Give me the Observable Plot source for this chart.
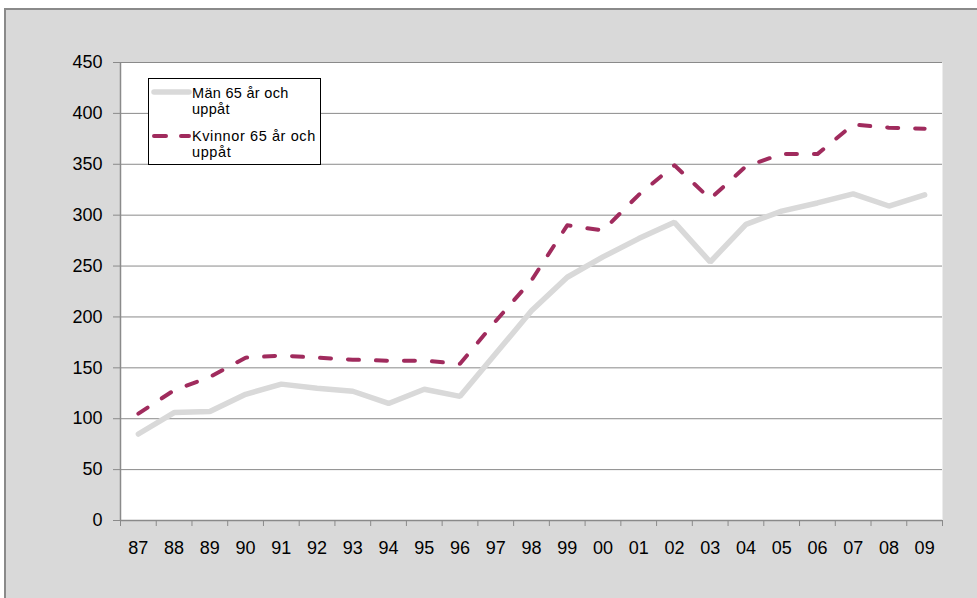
<!DOCTYPE html>
<html><head><meta charset="utf-8">
<script src="https://cdn.jsdelivr.net/npm/d3@7"></script>
<script src="https://cdn.jsdelivr.net/npm/@observablehq/plot@0.6"></script>
<style>
body{margin:0;background:#fff;}
#wrap{position:relative;width:977px;height:598px;overflow:hidden;font-family:"Liberation Sans",Arial,sans-serif;}
#panel{position:absolute;left:4px;top:8px;width:1000px;height:620px;background:#d9d9d9;border-left:2px solid #8a8a8a;border-top:2px solid #8a8a8a;}
#chart{position:absolute;left:0;top:0;}
#legend{position:absolute;left:148px;top:78px;width:173px;height:87px;box-sizing:border-box;background:#fff;border:1px solid #000;}
#legend svg{position:absolute;left:-1px;top:-1px;overflow:visible;}
</style></head><body>
<div id="wrap"><div id="panel"></div><div id="chart"></div><div id="legend"></div></div>
<script>
const years = ["87","88","89","90","91","92","93","94","95","96","97","98","99","00","01","02","03","04","05","06","07","08","09"];
const men = [85,106,107,124,134,130,127,115,129,122,164,206,239,259,277,293,254,291,304,312,321,309,320];
const women = [105,128,141,160,162,160,158,157,157,154,196,236,290,285,320,349,316,348,360,360,389,386,385];
const seriesNames = [["Män 65 år och", "uppåt"], ["Kvinnor 65 år och", "uppåt"]];
const yTicks = [0,50,100,150,200,250,300,350,400,450];

const menColor = "#d9d9d9";
const womenColor = "#a02b5d";
const gridColor = "#8a8a8a";

const idx = years.map((d, i) => i);

const chart = Plot.plot({
  width: 977, height: 598,
  marginLeft: 120, marginRight: 35, marginTop: 62, marginBottom: 78,
  style: {background: "transparent", fontFamily: "'Liberation Sans', Arial, sans-serif", fontSize: "18px", color: "#000", overflow: "visible"},
  x: {type: "linear", domain: [0, years.length]},
  y: {domain: [0, 450]},
  marks: [
    Plot.frame({fill: "white", stroke: "none"}),
    Plot.gridY(yTicks, {stroke: gridColor, strokeOpacity: 1, strokeWidth: 1}),
    Plot.ruleX([0], {stroke: gridColor, strokeWidth: 1.5}),
    Plot.ruleY([0], {stroke: gridColor, strokeWidth: 1.5}),
    Plot.axisY(yTicks, {tickSize: 7, tickPadding: 11, stroke: gridColor, fill: "#000", label: null, tickFormat: d => String(d)}),
    Plot.axisX(d3.range(years.length + 1), {tickSize: 6, tickFormat: () => "", stroke: gridColor, label: null}),
    Plot.axisX(idx.map(i => i + 0.5), {tickSize: 0, tickPadding: 21, fill: "#000", tickFormat: d => years[Math.round(d - 0.5)], label: null}),
    Plot.line(men, {x: (d, i) => i + 0.5, y: d => d, stroke: menColor, strokeWidth: 5.5, strokeLinejoin: "miter", strokeLinecap: "round"}),
    Plot.line(women, {x: (d, i) => i + 0.5, y: d => d, stroke: womenColor, strokeWidth: 4, strokeDasharray: "11,17", strokeLinecap: "round", strokeLinejoin: "round"})
  ]
});
document.getElementById("chart").appendChild(chart);

// Legend
const lg = d3.select("#legend").append("svg").attr("width", 173).attr("height", 87);
const entries = [
  {lines: seriesNames[0], color: menColor, width: 5.5, dash: null, ly: 14, base: 19.5, ls: 0.3},
  {lines: seriesNames[1], color: womenColor, width: 4, dash: "12,15", ly: 58, base: 63, ls: 0.6}
];
entries.forEach(e => {
  lg.append("line").attr("x1", 6).attr("x2", 41).attr("y1", e.ly).attr("y2", e.ly)
    .attr("stroke", e.color).attr("stroke-width", e.width).attr("stroke-linecap", "round")
    .attr("stroke-dasharray", e.dash);
  e.lines.forEach((t, j) => {
    lg.append("text").attr("x", 44).attr("y", e.base + j * 16.3)
      .attr("font-family", "'Liberation Sans', Arial, sans-serif").attr("font-size", 14.5)
      .attr("letter-spacing", e.ls)
      .attr("fill", "#000").text(t);
  });
});
</script>
</body></html>
